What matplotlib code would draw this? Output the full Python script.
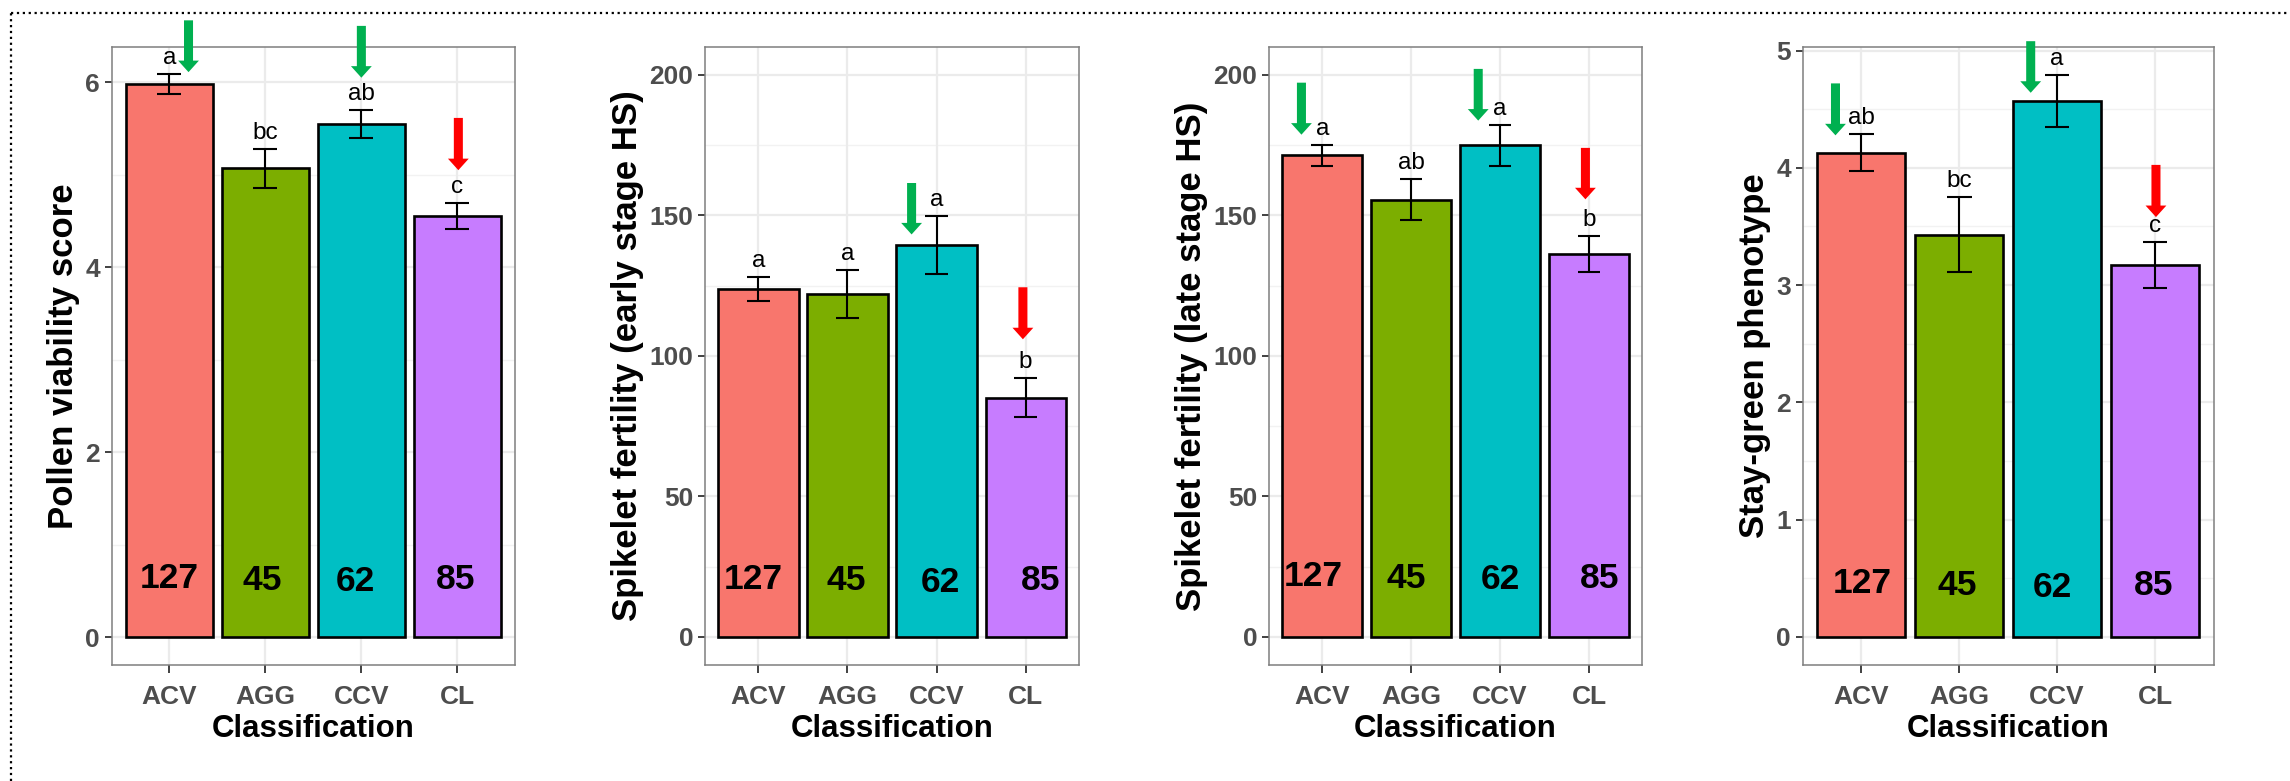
import matplotlib.pyplot as plt
from matplotlib.lines import Line2D
import numpy as np

plt.rcParams['font.family'] = ['Liberation Sans', 'DejaVu Sans']

groups = ["ACV", "AGG", "CCV", "CL"]
colors = ["#F8766D", "#7CAE00", "#00BFC4", "#C77CFF"]
counts = ["127", "45", "62", "85"]

# means, standard errors and significance letters per trait
pollen_mean = [5.98, 5.07, 5.55, 4.55]
pollen_se = [0.11, 0.21, 0.15, 0.14]
pollen_letters = ["a", "bc", "ab", "c"]

early_mean = [123.8, 121.9, 139.6, 85.1]
early_se = [4.2, 8.6, 10.3, 7.0]
early_letters = ["a", "a", "a", "b"]

late_mean = [171.3, 155.5, 175.0, 136.2]
late_se = [3.8, 7.3, 7.3, 6.4]
late_letters = ["a", "ab", "a", "b"]

sg_mean = [4.13, 3.43, 4.57, 3.17]
sg_se = [0.16, 0.32, 0.225, 0.195]
sg_letters = ["ab", "bc", "a", "c"]

ylabels = ["Pollen viability score",
           "Spikelet fertility (early stage HS)",
           "Spikelet fertility (late stage HS)",
           "Stay-green phenotype"]

# where the group sizes sit inside the bars
count_x = [[-0.005, 0.97, 1.933, 2.98],
           [-0.06, 0.99, 2.045, 3.165],
           [-0.105, 0.94, 2.0, 3.12],
           [0.01, 0.98, 1.95, 2.985]]
count_y = [[0.63, 0.61, 0.60, 0.62],
           [20.6, 20.0, 19.4, 20.0],
           [21.5, 20.9, 20.6, 20.9],
           [0.453, 0.439, 0.425, 0.439]]

# highlight arrows: (x, tail y, tip y, colour)
GREEN = "#00B050"
RED = "#FF0000"
arrows = [
    [(0.2, 6.67, 6.11, GREEN), (2.0, 6.61, 6.05, GREEN), (3.01, 5.615, 5.05, RED)],
    [(1.72, 161.5, 143.2, GREEN), (2.97, 124.4, 105.9, RED)],
    [(-0.235, 197.2, 178.7, GREEN), (1.754, 202.1, 183.7, GREEN), (2.96, 174.0, 155.7, RED)],
    [(-0.265, 4.72, 4.277, GREEN), (1.73, 5.08, 4.64, GREEN), (3.01, 4.025, 3.58, RED)],
]

panels = [
    (pollen_mean, pollen_se, pollen_letters, (-0.30, 6.385), [0, 2, 4, 6], [1, 3, 5]),
    (early_mean, early_se, early_letters, (-10, 210), [0, 50, 100, 150, 200], [25, 75, 125, 175]),
    (late_mean, late_se, late_letters, (-10, 210), [0, 50, 100, 150, 200], [25, 75, 125, 175]),
    (sg_mean, sg_se, sg_letters, (-0.24, 5.033), [0, 1, 2, 3, 4, 5], [0.5, 1.5, 2.5, 3.5, 4.5]),
]

W, H = 2290, 781
fig = plt.figure(figsize=(W / 100, H / 100), dpi=100)

# axes boxes in pixels: left, right
boxes = [(111.7, 515), (705, 1079), (1269, 1642.3), (1802.7, 2213.7)]
top_px, bot_px = 46.7, 665

x = np.arange(len(groups))
for i, (mean, se, letters, ylim, ticks, minor) in enumerate(panels):
    l, r = boxes[i]
    ax = fig.add_axes([l / W, 1 - bot_px / H, (r - l) / W, (bot_px - top_px) / H])
    ax.set_axisbelow(True)

    for t in ticks:
        ax.axhline(t, color="#EBEBEB", lw=1.6, zorder=0)
    for t in minor:
        ax.axhline(t, color="#F2F2F2", lw=1.0, zorder=0)
    for xi in x:
        ax.axvline(xi, color="#EBEBEB", lw=1.6, zorder=0)

    ax.bar(x, mean, width=0.9, color=colors, edgecolor="black", linewidth=1.9, zorder=2)

    mean = np.array(mean)
    se = np.array(se)
    ax.vlines(x, mean - se, mean + se, color="black", lw=1.5, zorder=3)
    ax.hlines(mean + se, x - 0.125, x + 0.125, color="black", lw=1.5, zorder=3)
    ax.hlines(mean - se, x - 0.125, x + 0.125, color="black", lw=1.5, zorder=3)

    for xi, top, lab in zip(x, mean + se, letters):
        ax.annotate(lab, (xi, top), xytext=(0, 7.2), textcoords="offset points",
                    ha="center", va="baseline", fontsize=17.5, color="black", zorder=4)

    for cx, cy, c in zip(count_x[i], count_y[i], counts):
        ax.text(cx, cy, c, ha="center", va="center", fontsize=25.5,
                fontweight="bold", color="black", zorder=4)

    for ax_x, tail, tip, col in arrows[i]:
        ax.annotate("", xy=(ax_x, tip), xytext=(ax_x, tail),
                    arrowprops=dict(facecolor=col, edgecolor="none", width=6.5,
                                    headwidth=15, headlength=8.3, shrink=0),
                    annotation_clip=False, zorder=5)

    ax.set_xlim(-0.6, 3.6)
    ax.set_ylim(*ylim)
    ax.set_xticks(x)
    ax.set_xticklabels(groups)
    ax.set_yticks(ticks)
    ax.tick_params(length=5, width=1.3, color="#333333", labelcolor="#4D4D4D",
                   labelsize=19, pad=3.5)
    ax.tick_params(axis="x", length=5.5, pad=9)
    for lab in ax.get_xticklabels() + ax.get_yticklabels():
        lab.set_fontweight("bold")
    for sp in ax.spines.values():
        sp.set_color("#7F7F7F")
        sp.set_linewidth(1.1)

    ax.set_xlabel("Classification", fontsize=22.5, fontweight="bold", labelpad=3.5)
    ax.set_ylabel(ylabels[i], fontsize=25, fontweight="bold", labelpad=4)

# dotted frame around the figure
fy = 1 - 12.5 / H
fx = 11 / W
fig.add_artist(Line2D([fx, 1.0], [fy, fy], transform=fig.transFigure,
                      color="black", lw=1.6, linestyle=":"))
fig.add_artist(Line2D([fx, fx], [0.0, fy], transform=fig.transFigure,
                      color="black", lw=1.6, linestyle=":"))

fig.savefig("out.png", dpi=100)
